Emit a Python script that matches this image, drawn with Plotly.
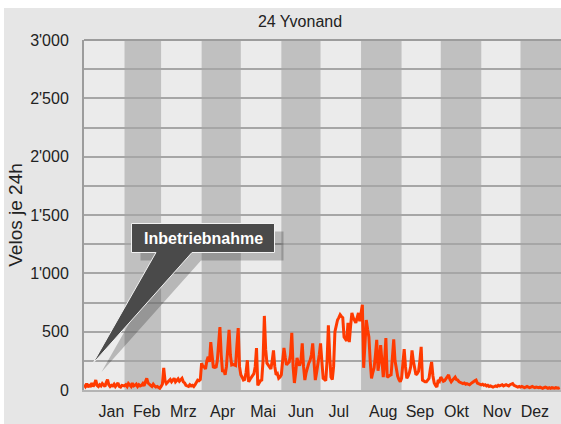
import pandas as pd
import plotly.graph_objects as go

# daily counts, 24h totals
jan = [45, 30, 55, 25, 40, 35, 60, 30, 50, 85, 40, 30, 45, 35, 55, 40, 30, 65, 90, 45,
       30, 40, 35, 50, 30, 45, 60, 30, 25, 40, 35]
feb = [35, 45, 30, 55, 40, 30, 60, 35, 40, 50, 30, 45, 35, 40, 55, 35, 70, 100, 60, 45,
       40, 30, 50, 35, 25, 30, 20, 15]
mar = [30, 50, 190, 80, 55, 65, 75, 90, 70, 85, 100, 70, 80, 95, 75, 85, 100, 70, 60, 40,
       35, 30, 45, 35, 40, 30, 45, 60, 85, 80, 90]
apr = [230, 200, 200, 180, 250, 285, 240, 410, 300, 190, 200, 190, 250, 400, 540, 300, 155, 170, 130, 200,
       350, 515, 300, 215, 220, 215, 210, 380, 530, 200]
may = [130, 110, 85, 90, 150, 255, 70, 90, 110, 120, 140, 200, 360, 40, 60, 80, 85, 250, 635, 350,
       230, 210, 200, 180, 250, 340, 200, 130, 140, 100, 110]
jun = [130, 250, 360, 280, 215, 230, 240, 300, 490, 200, 60, 150, 275, 230, 210, 250, 400, 200, 85, 150,
       200, 230, 255, 300, 400, 200, 85, 150, 255, 300]
jul = [400, 200, 100, 90, 80, 250, 555, 300, 110, 90, 200, 500, 560, 600, 620, 645, 630, 620, 455, 430,
       420, 575, 410, 550, 660, 620, 600, 575, 620, 660, 590]
aug = [650, 730, 190, 350, 600, 520, 455, 250, 100, 150, 190, 300, 430, 165, 250, 385, 200, 110, 250, 445,
       110, 120, 125, 130, 300, 435, 250, 170, 120, 90, 70]
sep = [100, 200, 350, 200, 100, 120, 150, 200, 340, 250, 200, 130, 140, 160, 250, 370, 85, 75, 70, 70,
       85, 100, 180, 240, 120, 60, 40, 25, 85, 75]
okt = [110, 90, 75, 80, 100, 110, 130, 90, 70, 85, 95, 110, 90, 85, 70, 65, 60, 55, 60, 50,
       55, 50, 45, 55, 60, 70, 80, 85, 60, 55, 50]
nov = [45, 50, 40, 45, 35, 40, 30, 35, 30, 25, 30, 35, 30, 40, 35, 40, 45, 35, 40, 45,
       40, 35, 45, 50, 55, 40, 35, 30, 25, 30]
dez = [25, 30, 25, 20, 25, 30, 25, 20, 25, 30, 25, 20, 25, 20, 20, 25, 20, 15, 20, 25,
       20, 15, 20, 15, 20, 15, 15, 20, 15, 15, 20]

month_names = ["Jan", "Feb", "Mrz", "Apr", "Mai", "Jun", "Jul", "Aug", "Sep", "Okt", "Nov", "Dez"]
label_dates = ["2023-01-22", "2023-02-18", "2023-03-18", "2023-04-17", "2023-05-18", "2023-06-16",
               "2023-07-15", "2023-08-18", "2023-09-15", "2023-10-13", "2023-11-13", "2023-12-12"]

counts = jan + feb + mar + apr + may + jun + jul + aug + sep + okt + nov + dez
days = pd.date_range("2023-01-01", periods=len(counts), freq="D")

W, H = 561, 424
L, R, T, B = 84, 0, 40, 34
FONT = "Liberation Sans, Arial, sans-serif"


def px(x, y):
    # pixel position -> paper coords
    return (x - L) / (W - L - R), (H - B - y) / (H - T - B)


def callout_path(dx=0, dy=0):
    pts = [(131.5, 223.5), (274.5, 223.5), (274.5, 252.5), (192, 252.5),
           (92.5, 364), (156, 252.5), (131.5, 252.5)]
    out = []
    for i, (x, y) in enumerate(pts):
        u, v = px(x + dx, y + dy)
        out.append(("M" if i == 0 else "L") + f"{u:.4f},{v:.4f}")
    return " ".join(out) + " Z"


fig = go.Figure()
fig.add_trace(go.Scatter(
    x=days, y=counts, mode="lines",
    line=dict(color="#ff3a00", width=3),
    hoverinfo="skip", showlegend=False,
))

shapes = []
month_starts = pd.date_range("2023-01-01", periods=13, freq="MS")
for i in range(1, 12, 2):
    shapes.append(dict(
        type="rect", xref="x", yref="paper",
        x0=month_starts[i], x1=month_starts[i + 1], y0=0, y1=1,
        fillcolor="#c0c0c0", line_width=0, layer="between",
    ))
# top border of the plot
shapes.append(dict(type="line", xref="paper", yref="paper", x0=0, x1=1, y0=1, y1=1,
                   line=dict(color="#9c9c9c", width=2), layer="between"))
# callout shadow + callout
shapes.append(dict(type="path", xref="paper", yref="paper", path=callout_path(9, 8),
                   fillcolor="rgba(0,0,0,0.22)", line_width=0, layer="above"))
shapes.append(dict(type="path", xref="paper", yref="paper", path=callout_path(),
                   fillcolor="#4a4a4a", line=dict(color="#f2f2f2", width=1), layer="above"))
# white strips at top and left edge of the page
x_left, y_top = px(0, 0)
x_four, y_eight = px(4, 8)
_, y_bot = px(0, H)
shapes.append(dict(type="rect", xref="paper", yref="paper", x0=x_left, x1=x_four, y0=y_bot, y1=y_top,
                   fillcolor="white", line_width=0, layer="above"))
shapes.append(dict(type="rect", xref="paper", yref="paper", x0=x_left, x1=1, y0=y_eight, y1=y_top,
                   fillcolor="white", line_width=0, layer="above"))

tx, ty = px(203, 238)
fig.update_layout(
    width=W, height=H,
    margin=dict(l=L, r=R, t=T, b=B),
    paper_bgcolor="#e6e6e6",
    plot_bgcolor="#ebebeb",
    separators=".'",
    font=dict(family=FONT, size=16, color="#222222"),
    title=dict(text="24 Yvonand", x=px(300, 0)[0], xref="paper", xanchor="center",
               y=1 - 21 / H, yanchor="middle", font=dict(size=16)),
    shapes=shapes,
    annotations=[dict(
        x=tx, y=ty, xref="paper", yref="paper", text="<b>Inbetriebnahme</b>",
        xanchor="center", yanchor="middle",
        showarrow=False, font=dict(color="white", size=16, family=FONT),
    )],
    showlegend=False,
)
fig.update_xaxes(
    range=["2023-01-01", "2024-01-01"], automargin=False,
    tickmode="array", tickvals=label_dates, ticktext=month_names,
    showgrid=False, zeroline=False, ticks="",
    showline=True, linecolor="#b4b4b4", linewidth=2,
    ticklabelstandoff=6,
)
fig.update_yaxes(
    range=[0, 3000], dtick=500, separatethousands=True, automargin=False,
    showgrid=True, gridcolor="#a6a6a6", gridwidth=2,
    minor=dict(dtick=250, showgrid=True, gridcolor="#a6a6a6", gridwidth=2),
    zeroline=False, ticks="",
    showline=True, linecolor="#9c9c9c", linewidth=2,
    ticklabelstandoff=10,
    title=dict(text="Velos je 24h", standoff=2),
)

fig.write_html("out.html", config={"displayModeBar": False},
               post_script="document.body.style.margin='0';")
